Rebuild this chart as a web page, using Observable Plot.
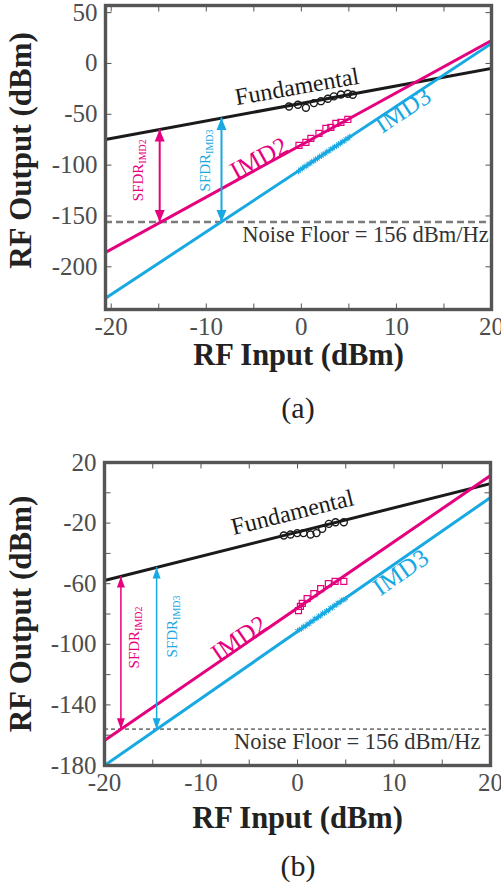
<!DOCTYPE html>
<html>
<head>
<meta charset="utf-8">
<script src="https://cdn.jsdelivr.net/npm/d3@7"></script>
<script src="https://cdn.jsdelivr.net/npm/@observablehq/plot@0.6"></script>
<style>
  body { margin: 0; background: #fff; }
  #page { position: relative; width: 501px; height: 886px; font-family: "Liberation Serif", "Times New Roman", serif; }
  .panel { position: absolute; left: 0; }
  .cap { position: absolute; left: 105px; width: 386px; text-align: center; font-size: 30px; line-height: 30px; color: #222; }
</style>
</head>
<body>
<div id="page"></div>
<script>
const MAGENTA = "#E5007E";
const CYAN = "#19A9E2";
const INK = "#1a1a1a";
const FRAME = "#555555";
const TICK_TEXT = "#4d4d4d";
const SERIF = "'Liberation Serif', 'Times New Roman', serif";

// ---------- panel (a) ----------
const a_xDomain = [-20.6, 20];
const a_yDomain = [-242, 57];
const a_xTicks = [-20, -15, -10, -5, 0, 5, 10, 15, 20];
const a_xTickValues = [-20, -10, 0, 10, 20];
const a_xTickLabels = ["-20", "-10", "0", "10", "20"];
const a_yTicks = [50, 0, -50, -100, -150, -200];
const a_yTickValues = [50, 0, -50, -100, -150, -200];
const a_yTickLabels = ["50", "0", "-50", "-100", "-150", "-200"];
const a_lineX = [-20.6, 20];
const a_fundY = [-74.7, -4.9];
const a_imd2Y = [-185.8, 22.6];
const a_imd3Y = [-231, 19.7];
const a_noiseFloor = -156;
const a_fundMeasX = [-1.3, -0.36, 0.48, 1.32, 2.06, 2.79, 3.42, 4.16, 4.89, 5.41];
const a_fundMeasY = [-42.3, -40.6, -43.6, -39.0, -37.1, -34.7, -32.4, -30.5, -29.8, -30.8];
const a_imd2MeasX = [-0.25, 0.48, 1.0, 1.85, 2.58, 3.1, 3.63, 4.16, 4.89];
const a_imd2MeasY = [-80.6, -77.7, -73.7, -68.8, -63.9, -62.9, -59.0, -58.0, -55.1];
const a_imd3MeasX = [-0.3, -0.1, 0.1, 0.3, 0.5, 0.7, 0.9, 1.1, 1.3, 1.5, 1.7, 1.9, 2.1, 2.3,
                     2.5, 2.7, 2.9, 3.1, 3.3, 3.5, 3.7, 3.9, 4.1, 4.3, 4.5, 4.7, 4.9, 5.1];
const a_imd3MeasY = [-106.2, -104.0, -103.6, -101.2, -101.3, -98.9, -98.8, -96.4, -96.3, -93.9,
                     -93.9, -91.4, -91.3, -89.0, -88.9, -86.4, -86.5, -84.0, -83.9, -81.6,
                     -81.5, -79.1, -79.0, -76.7, -76.6, -74.2, -74.0, -71.8];
// SFDR spans: input level, fundamental level at that input
const a_sfdrX = [-14.9, -8.4];
const a_sfdrTop = [-64.9, -53.7];

// ---------- panel (b) ----------
const b_xDomain = [-20, 20];
const b_yDomain = [-180, 20];
const b_xTicks = [-20, -15, -10, -5, 0, 5, 10, 15, 20];
const b_xTickValues = [-20, -10, 0, 10, 20];
const b_xTickLabels = ["-20", "-10", "0", "10", "20"];
const b_yTicks = [20, 0, -20, -40, -60, -80, -100, -120, -140, -160, -180];
const b_yTickValues = [20, -20, -60, -100, -140, -180];
const b_yTickLabels = ["20", "-20", "-60", "-100", "-140", "-180"];
const b_lineX = [-20, 20];
const b_fundY = [-57.9, 6.1];
const b_imd2Y = [-163.5, 11.4];
const b_imd3Y = [-180, -3.1];
const b_noiseFloor = -156;
const b_fundMeasX = [-1.42, -0.72, -0.03, 0.62, 1.35, 1.97, 2.56, 3.25, 3.94, 4.8];
const b_fundMeasY = [-28.2, -27.5, -26.6, -26.6, -27.5, -26.6, -23.8, -20.5, -19.4, -19.4];
const b_imd2MeasX = [0.1, 0.3, 0.5, 1.0, 1.7, 2.4, 3.2, 3.9, 4.8];
const b_imd2MeasY = [-77.7, -75.0, -73.0, -69.8, -66.5, -63.2, -59.9, -58.5, -58.5];
const b_imd3MeasX = [0.0, 0.2, 0.4, 0.6, 0.8, 1.0, 1.2, 1.4, 1.6, 1.8, 2.0, 2.2, 2.4,
                     2.6, 2.8, 3.0, 3.2, 3.4, 3.6, 3.8, 4.0, 4.2, 4.4, 4.6, 4.8, 5.0];
const b_imd3MeasY = [-91.0, -90.2, -89.9, -88.2, -88.4, -86.6, -86.7, -84.9, -84.8, -82.9,
                     -83.1, -81.3, -81.4, -79.4, -79.6, -77.8, -77.9, -75.9, -76.1, -74.3,
                     -74.2, -72.4, -72.6, -70.8, -70.7, -69.9];
const b_sfdrX = [-18.3, -14.6];
const b_sfdrTop = [-55.2, -49.3];

const noiseText = "Noise Floor = 156 dBm/Hz";

// pair up x and y arrays into point records
const pts = (xs, ys) => xs.map((x, i) => ({x, y: ys[i]}));

// short inward tick marks drawn as custom dot symbols
const tick = (dx, dy) => ({draw(c) { c.moveTo(0, 0); c.lineTo(dx, dy); }});
// filled arrow heads with the tip at the anchor point
const head = (w, h, dir) => ({draw(c) {
  c.moveTo(0, 0); c.lineTo(-w / 2, dir * h); c.lineTo(w / 2, dir * h); c.closePath();
}});

function panel(p) {
  const fmtX = d => p.xTickLabels[p.xTickValues.indexOf(d)];
  const fmtY = d => p.yTickLabels[p.yTickValues.indexOf(d)];
  const sfdr = (i, color) => {
    const d = [{x: p.sfdrX[i], top: p.sfdrTop[i], bottom: p.noise}];
    return [
      Plot.ruleX(d, {x: "x", y1: "top", y2: "bottom", stroke: color, strokeWidth: p.arrowWidth}),
      Plot.dot(d, {x: "x", y: "top", symbol: head(p.headW, p.headH, 1), fill: color, stroke: "none"}),
      Plot.dot(d, {x: "x", y: "bottom", symbol: head(p.headW, p.headH, -1), fill: color, stroke: "none"})
    ];
  };
  const lbl = (l, extra) => Plot.text([l], {x: "x", y: "y", text: "t", rotate: l.r, fontFamily: SERIF, ...extra});
  return Plot.plot({
    width: 501, height: p.height,
    marginLeft: p.ml, marginRight: p.mr, marginTop: p.mt, marginBottom: p.mb,
    x: {domain: p.xDomain}, y: {domain: p.yDomain},
    style: {fontFamily: SERIF, background: "#fff", overflow: "visible"},
    marks: [
      Plot.ruleY([p.noise], {stroke: "#7c7c7c", strokeWidth: p.noiseWidth, strokeDasharray: p.noiseDash}),
      Plot.line(pts(p.lineX, p.fundY), {x: "x", y: "y", stroke: INK, strokeWidth: 3, clip: true}),
      Plot.line(pts(p.lineX, p.imd2Y), {x: "x", y: "y", stroke: MAGENTA, strokeWidth: 3, clip: true}),
      Plot.line(pts(p.lineX, p.imd3Y), {x: "x", y: "y", stroke: CYAN, strokeWidth: 3, clip: true}),
      Plot.dot(pts(p.fundMX, p.fundMY), {x: "x", y: "y", r: 3.5, stroke: INK, strokeWidth: 1.4, fill: "none"}),
      Plot.dot(pts(p.imd2MX, p.imd2MY), {x: "x", y: "y", symbol: "square", r: 3.4, stroke: MAGENTA, strokeWidth: 1.2, fill: "none"}),
      Plot.dot(pts(p.imd3MX, p.imd3MY), {x: "x", y: "y", symbol: "asterisk", r: 2.6, stroke: CYAN, strokeWidth: 1}),
      ...sfdr(0, MAGENTA),
      ...sfdr(1, CYAN),
      lbl(p.fundLabel, {fill: INK, fontSize: 24}),
      lbl(p.imd2Label, {fill: MAGENTA, fontSize: 25}),
      lbl(p.imd3Label, {fill: CYAN, fontSize: 25}),
      lbl(p.sfdr2Label, {fill: MAGENTA, fontSize: 15}),
      lbl(p.sfdr3Label, {fill: CYAN, fontSize: 15}),
      Plot.text([noiseText], {x: p.noiseLabel.x, y: p.noiseLabel.y, textAnchor: "end", fontFamily: SERIF, fontSize: 22.5, fill: "#333"}),
      Plot.frame({stroke: FRAME, strokeWidth: 3.4}),
      Plot.dotX(p.xTicks, {frameAnchor: "bottom", symbol: tick(0, -6), stroke: FRAME, strokeWidth: 1}),
      Plot.dotX(p.xTicks, {frameAnchor: "top", symbol: tick(0, 6), stroke: FRAME, strokeWidth: 1}),
      Plot.dotY(p.yTicks, {frameAnchor: "left", symbol: tick(6, 0), stroke: FRAME, strokeWidth: 1}),
      Plot.dotY(p.yTicks, {frameAnchor: "right", symbol: tick(-6, 0), stroke: FRAME, strokeWidth: 1}),
      Plot.axisX(p.xTickValues, {anchor: "bottom", tickSize: 0, tickPadding: 8, tickFormat: fmtX, label: null, fontSize: 25, color: TICK_TEXT}),
      Plot.axisY(p.yTickValues, {anchor: "left", tickSize: 0, tickPadding: 8, tickFormat: fmtY, label: null, fontSize: 25, color: TICK_TEXT}),
      Plot.text(["RF Input (dBm)"], {frameAnchor: "bottom", dy: p.xTitleDy, textAnchor: "middle", lineAnchor: "middle", fontFamily: SERIF, fontSize: 30.5, fontWeight: "bold", fill: "#222"}),
      Plot.text(["RF Output (dBm)"], {frameAnchor: "left", dx: p.yTitleDx, dy: p.yTitleDy, rotate: -90, textAnchor: "middle", lineAnchor: "middle", fontFamily: SERIF, fontSize: 31, fontWeight: "bold", fill: "#222"})
    ]
  });
}

// turn "SFDR_IMDn" into SFDR with a subscript
function subscripts(svg) {
  d3.select(svg).selectAll("text").each(function () {
    const m = /^SFDR_(IMD\d)$/.exec(this.textContent);
    if (!m) return;
    this.textContent = "SFDR";
    d3.select(this).append("tspan").attr("dy", 3).attr("font-size", 10).text(m[1]);
  });
}

const page = document.getElementById("page");

const svgA = panel({
  height: 380, ml: 105, mr: 10, mt: 5, mb: 71,
  xDomain: a_xDomain, yDomain: a_yDomain,
  xTicks: a_xTicks, xTickValues: a_xTickValues, xTickLabels: a_xTickLabels,
  yTicks: a_yTicks, yTickValues: a_yTickValues, yTickLabels: a_yTickLabels,
  lineX: a_lineX, fundY: a_fundY, imd2Y: a_imd2Y, imd3Y: a_imd3Y, noise: a_noiseFloor,
  fundMX: a_fundMeasX, fundMY: a_fundMeasY, imd2MX: a_imd2MeasX, imd2MY: a_imd2MeasY,
  imd3MX: a_imd3MeasX, imd3MY: a_imd3MeasY,
  sfdrX: a_sfdrX, sfdrTop: a_sfdrTop, arrowWidth: 2, headW: 10, headH: 12,
  noiseWidth: 2.5, noiseDash: "7,4",
  fundLabel: {t: "Fundamental", x: -0.46, y: -23, r: -10},
  imd2Label: {t: "IMD2", x: -4.45, y: -93.4, r: -28.7},
  imd3Label: {t: "IMD3", x: 10.7, y: -46.2, r: -33.4},
  sfdr2Label: {t: "SFDR_IMD2", x: -17.15, y: -105, r: -90},
  sfdr3Label: {t: "SFDR_IMD3", x: -10.1, y: -95.4, r: -90},
  noiseLabel: {x: 19.7, y: -169},
  xTitleDy: 46, yTitleDx: -84, yTitleDy: -7
});
svgA.classList.add("panel"); svgA.style.top = "0px";
subscripts(svgA);
page.appendChild(svgA);

const capA = document.createElement("div");
capA.className = "cap"; capA.style.top = "393px"; capA.textContent = "(a)";
page.appendChild(capA);

const svgB = panel({
  height: 400, ml: 104, mr: 11, mt: 22, mb: 75,
  xDomain: b_xDomain, yDomain: b_yDomain,
  xTicks: b_xTicks, xTickValues: b_xTickValues, xTickLabels: b_xTickLabels,
  yTicks: b_yTicks, yTickValues: b_yTickValues, yTickLabels: b_yTickLabels,
  lineX: b_lineX, fundY: b_fundY, imd2Y: b_imd2Y, imd3Y: b_imd3Y, noise: b_noiseFloor,
  fundMX: b_fundMeasX, fundMY: b_fundMeasY, imd2MX: b_imd2MeasX, imd2MY: b_imd2MeasY,
  imd3MX: b_imd3MeasX, imd3MY: b_imd3MeasY,
  sfdrX: b_sfdrX, sfdrTop: b_sfdrTop, arrowWidth: 1.5, headW: 8, headH: 11,
  noiseWidth: 1.6, noiseDash: "4,3",
  fundLabel: {t: "Fundamental", x: -0.52, y: -13, r: -14},
  imd2Label: {t: "IMD2", x: -6.06, y: -96.2, r: -34.5},
  imd3Label: {t: "IMD3", x: 10.7, y: -52.6, r: -34.8},
  sfdr2Label: {t: "SFDR_IMD2", x: -16.9, y: -95.5, r: -90},
  sfdr3Label: {t: "SFDR_IMD3", x: -12.95, y: -88.2, r: -90},
  noiseLabel: {x: 18.96, y: -164.2},
  xTitleDy: 53, yTitleDx: -83, yTitleDy: 0
});
svgB.classList.add("panel"); svgB.style.top = "440px";
subscripts(svgB);
page.appendChild(svgB);

const capB = document.createElement("div");
capB.className = "cap"; capB.style.top = "851px"; capB.textContent = "(b)";
page.appendChild(capB);
</script>
</body>
</html>
